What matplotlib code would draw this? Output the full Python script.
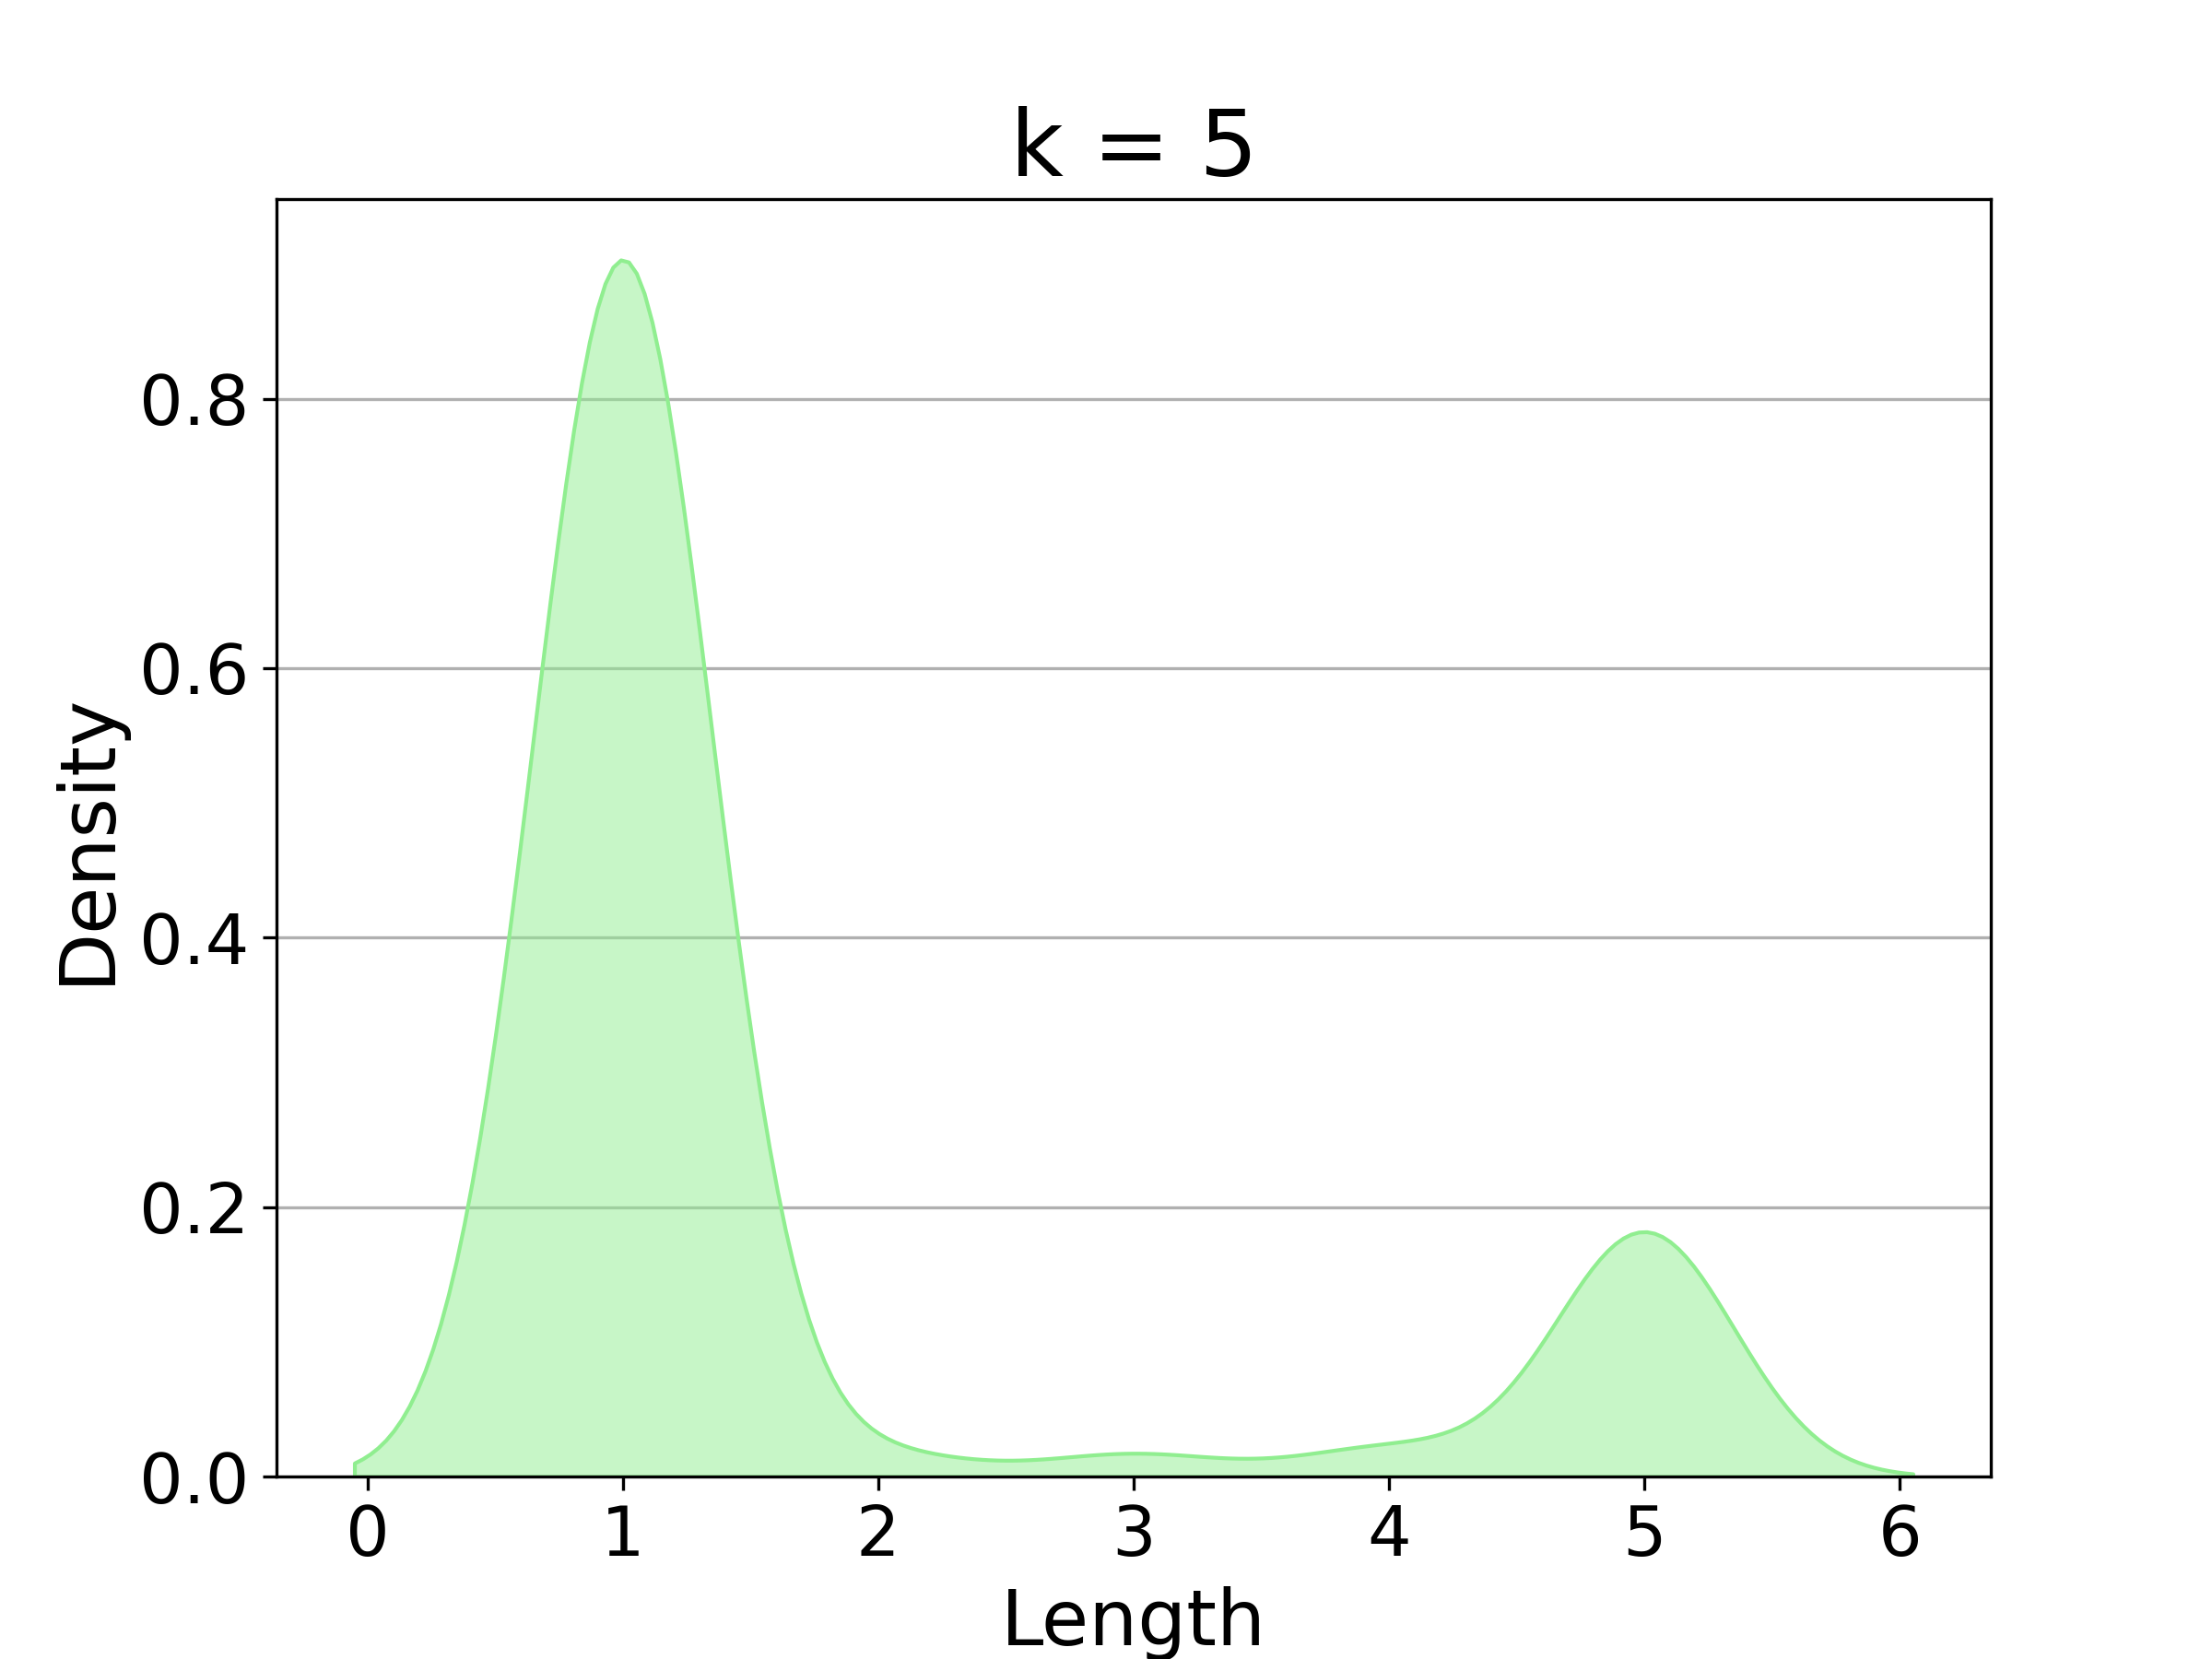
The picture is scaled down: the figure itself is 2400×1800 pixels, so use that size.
import matplotlib
matplotlib.use("Agg")
import matplotlib.pyplot as plt
import numpy as np
import seaborn as sns

# Conteo de longitudes observadas
longitudes = [1, 2, 3, 4, 5]
conteos = [1140, 21, 21, 27, 229]

datos = np.repeat(longitudes, conteos)

fig, ax = plt.subplots(figsize=(8, 6), dpi=300)

sns.kdeplot(x=datos, ax=ax, fill=True, color="lightgreen", alpha=0.5, linewidth=1)

ax.set_title("k = 5", fontsize=24)
ax.set_xlabel("Length", fontsize=20)
ax.set_ylabel("Density", fontsize=20)
ax.tick_params(axis="both", labelsize=18)
ax.grid(axis="y")
ax.set_axisbelow(True)

fig.savefig("out.png", dpi=300)
